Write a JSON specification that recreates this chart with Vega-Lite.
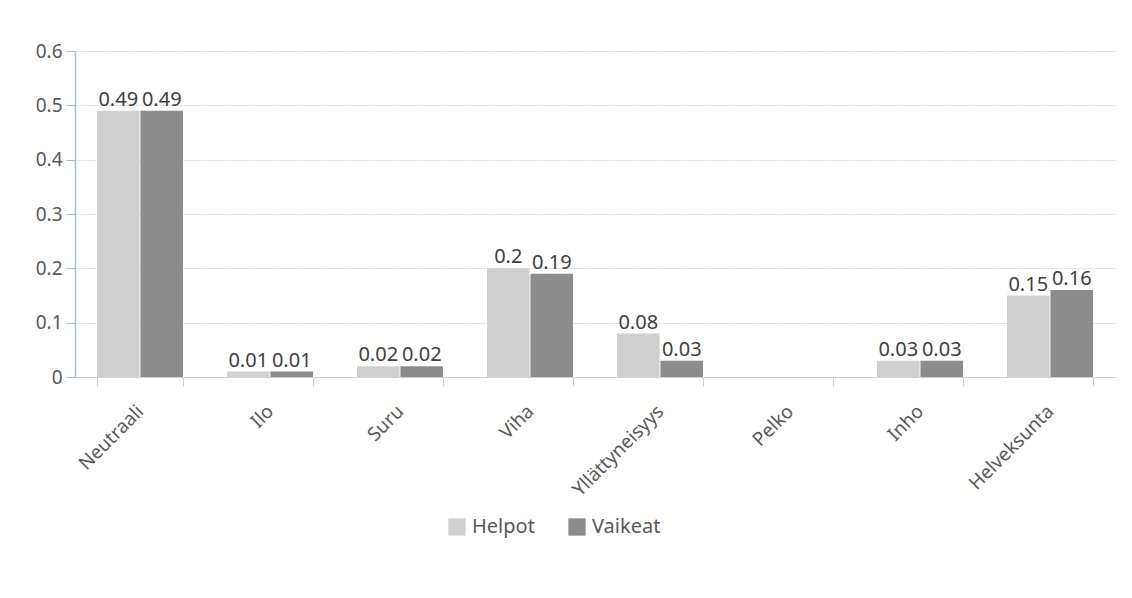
{
  "$schema": "https://vega.github.io/schema/vega-lite/v6.json",
  "width": 1040,
  "height": 326,
  "autosize": {"type": "none"},
  "padding": {"left": 75, "top": 51, "right": 17, "bottom": 221},
  "background": "white",
  "data": {
    "values": [
      {"cat": "Neutraali", "series": "Helpot", "value": 0.49},
      {"cat": "Neutraali", "series": "Vaikeat", "value": 0.49},
      {"cat": "Ilo", "series": "Helpot", "value": 0.01},
      {"cat": "Ilo", "series": "Vaikeat", "value": 0.01},
      {"cat": "Suru", "series": "Helpot", "value": 0.02},
      {"cat": "Suru", "series": "Vaikeat", "value": 0.02},
      {"cat": "Viha", "series": "Helpot", "value": 0.2},
      {"cat": "Viha", "series": "Vaikeat", "value": 0.19},
      {"cat": "Yllättyneisyys", "series": "Helpot", "value": 0.08},
      {"cat": "Yllättyneisyys", "series": "Vaikeat", "value": 0.03},
      {"cat": "Pelko", "series": "Helpot", "value": 0},
      {"cat": "Pelko", "series": "Vaikeat", "value": 0},
      {"cat": "Inho", "series": "Helpot", "value": 0.03},
      {"cat": "Inho", "series": "Vaikeat", "value": 0.03},
      {"cat": "Helveksunta", "series": "Helpot", "value": 0.15},
      {"cat": "Helveksunta", "series": "Vaikeat", "value": 0.16}
    ]
  },
  "encoding": {
    "x": {
      "field": "cat",
      "type": "nominal",
      "sort": null,
      "title": null,
      "scale": {"paddingInner": 0.338, "paddingOuter": 0.169},
      "axis": {
        "labelAngle": -45,
        "labelAlign": "right",
        "labelBaseline": "middle",
        "labelFont": "Noto Sans",
        "labelFontSize": 19,
        "labelColor": "#595959",
        "labelPadding": 22,
        "tickBand": "extent",
        "tickColor": "#d0d0d0",
        "tickSize": 9,
        "domainColor": "#d0d0d0",
        "grid": false
      }
    },
    "xOffset": {"field": "series", "type": "nominal", "scale": {"paddingInner": 0.02}},
    "y": {
      "field": "value",
      "type": "quantitative",
      "title": null,
      "scale": {"domain": [0, 0.6]},
      "axis": {
        "values": [0, 0.1, 0.2, 0.3, 0.4, 0.5, 0.6],
        "format": "~g",
        "labelFont": "Noto Sans",
        "labelFontSize": 19,
        "labelColor": "#595959",
        "labelPadding": 4,
        "tickSize": 9,
        "tickColor": "#9dc3e6",
        "domainColor": "#9dc3e6",
        "domainWidth": 1.5,
        "gridColor": "#d9d9d9",
        "gridDash": [2, 1]
      }
    }
  },
  "layer": [
    {
      "mark": {"type": "bar"},
      "encoding": {
        "color": {
          "field": "series",
          "type": "nominal",
          "title": null,
          "scale": {"domain": ["Helpot", "Vaikeat"], "range": ["#d0d0d0", "#8c8c8c"]},
          "legend": {
            "orient": "none",
            "direction": "horizontal",
            "legendX": 372,
            "legendY": 466,
            "symbolType": "square",
            "symbolSize": 300,
            "symbolStrokeWidth": 0,
            "labelFont": "Noto Sans",
            "labelFontSize": 20,
            "labelColor": "#595959",
            "columnPadding": 32,
            "labelOffset": 5
          }
        }
      }
    },
    {
      "transform": [{"filter": "datum.value > 0"}],
      "mark": {"type": "text", "baseline": "bottom", "dy": -1, "font": "Noto Sans", "fontSize": 20, "color": "#404040"},
      "encoding": {
        "text": {"field": "value", "type": "quantitative", "format": "~g"}
      }
    }
  ],
  "config": {"view": {"stroke": null}}
}
